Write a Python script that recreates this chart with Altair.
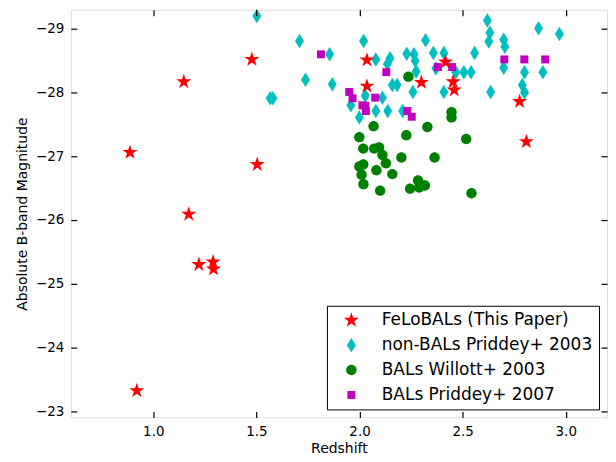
import altair as alt
import pandas as pd

# ---- data ----
felo_z = [0.887, 1.148, 1.478, 1.504, 1.172, 1.221, 1.290, 1.292, 0.920,
          2.036, 2.036, 2.300, 2.417, 2.454, 2.459, 2.776, 2.809]
felo_m = [-27.06, -28.17, -28.52, -26.87, -26.09, -25.30, -25.34, -25.23, -23.32,
          -28.51, -28.10, -28.16, -28.48, -28.17, -28.04, -27.86, -27.23]

nonbal_z = [1.502, 1.709, 1.855, 1.738, 1.868, 1.567, 1.580, 2.020, 2.079, 2.148,
            2.135, 2.229, 2.264, 2.270, 2.274, 2.320, 2.159, 2.182, 2.259, 2.111,
            2.028, 1.958, 1.999, 2.079, 2.137, 2.209, 2.358, 2.409, 2.558, 2.620,
            2.632, 2.627, 2.699, 2.705, 2.699, 2.370, 2.467, 2.506, 2.541, 2.409,
            2.636, 2.868, 2.969, 2.800, 2.889, 2.789, 2.800]
nonbal_m = [-29.20, -28.81, -28.60, -28.20, -28.13, -27.91, -27.91, -28.81, -28.52, -28.54,
            -28.45, -28.61, -28.60, -28.50, -28.33, -28.82, -28.12, -28.12, -28.01, -27.92,
            -27.95, -27.80, -27.61, -27.71, -27.71, -27.71, -28.62, -28.62, -28.62, -29.13,
            -28.94, -28.80, -28.83, -28.72, -28.39, -28.38, -28.32, -28.32, -28.32, -28.01,
            -28.01, -29.01, -28.92, -28.32, -28.32, -28.12, -28.00]

willott_z = [2.237, 2.446, 2.446, 2.068, 1.999, 2.227, 2.329, 2.517, 2.018, 2.071,
             2.095, 2.111, 2.128, 2.203, 2.364, 1.999, 2.018, 2.010, 2.082, 2.159,
             2.019, 2.100, 2.245, 2.284, 2.289, 2.317, 2.543]
willott_m = [-28.25, -27.69, -27.61, -27.47, -27.30, -27.33, -27.46, -27.27, -27.12, -27.12,
             -27.14, -27.02, -26.89, -26.98, -26.98, -26.84, -26.87, -26.71, -26.78, -26.72,
             -26.56, -26.46, -26.49, -26.62, -26.51, -26.54, -26.42]

priddey07_z = [1.813, 2.130, 1.950, 1.966, 2.014, 2.031, 2.028, 2.076, 2.232, 2.253,
               2.380, 2.449, 2.702, 2.799, 2.900]
priddey07_m = [-28.60, -28.32, -28.01, -27.91, -27.80, -27.71, -27.79, -27.92, -27.71, -27.62,
               -28.40, -28.40, -28.52, -28.52, -28.52]

series_names = ["FeLoBALs (This Paper)", "non-BALs Priddey+ 2003",
                "BALs Willott+ 2003", "BALs Priddey+ 2007"]
colors = ["#ff0000", "#00bfbf", "#008000", "#bf00bf"]
x_ticks = [1.0, 1.5, 2.0, 2.5, 3.0]
y_ticks = [-29, -28, -27, -26, -25, -24, -23]

STAR = ("M0,-1.1L0.247,-0.34L1.046,-0.34L0.4,0.13L0.647,0.89L0,0.42"
        "L-0.647,0.89L-0.4,0.13L-1.046,-0.34L-0.247,-0.34Z")
DIAMOND = "M0,-1L0.62,0L0,1L-0.62,0Z"
CIRCLE = "M0.72,0A0.72,0.72,0,1,1,-0.72,0A0.72,0.72,0,1,1,0.72,0Z"
SQUARE = "M-0.55,-0.55L0.55,-0.55L0.55,0.55L-0.55,0.55Z"
shapes = [STAR, DIAMOND, CIRCLE, SQUARE]
draw_rank = [3, 0, 1, 2]

rows = []
for name, zs, ms, rank in zip(series_names,
                              [felo_z, nonbal_z, willott_z, priddey07_z],
                              [felo_m, nonbal_m, willott_m, priddey07_m],
                              draw_rank):
    for z, m in zip(zs, ms):
        rows.append({"z": z, "M": m, "series": name, "rank": rank})
df = pd.DataFrame(rows)

FONT = "DejaVu Sans"
xscale = alt.Scale(domain=[0.6, 3.2], nice=False, zero=False)
yscale = alt.Scale(domain=[-29.3, -22.9], nice=False, zero=False, reverse=True)

common_axis = dict(tickSize=6, offset=-6, domain=False, grid=False, tickColor="black",
                   tickWidth=1.2, labelColor="black", titleColor="black",
                   labelFont=FONT, titleFont=FONT, labelFontSize=13.5,
                   titleFontSize=14, titleFontWeight="normal", zindex=2)

xaxis = alt.Axis(title="Redshift", values=x_ticks, format=".1f", labelPadding=7,
                 titlePadding=4, **common_axis)
yaxis = alt.Axis(title="Absolute B-band Magnitude", values=y_ticks, format="d",
                 labelPadding=7, titlePadding=6, **common_axis)
xaxis_top = alt.Axis(orient="top", title=None, labels=False, values=x_ticks, **common_axis)
yaxis_right = alt.Axis(orient="right", title=None, labels=False, values=y_ticks, **common_axis)

legend = alt.Legend(title=None, orient="bottom-right", offset=8, padding=6,
                    strokeColor="black", fillColor="white", labelFontSize=17,
                    labelFont=FONT, labelColor="black", rowPadding=7, labelLimit=500,
                    symbolOffset=10, labelOffset=22, symbolOpacity=1,
                    symbolStrokeWidth=0, symbolSize=210, cornerRadius=0)

points = alt.Chart(df).mark_point(filled=True, opacity=1, size=210).encode(
    x=alt.X("z:Q", scale=xscale, axis=xaxis),
    y=alt.Y("M:Q", scale=yscale, axis=yaxis),
    color=alt.Color("series:N", scale=alt.Scale(domain=series_names, range=colors),
                    legend=legend),
    shape=alt.Shape("series:N", scale=alt.Scale(domain=series_names, range=shapes),
                    legend=legend),
    order=alt.Order("rank:Q"),
)

frame_ticks = alt.Chart(df).mark_point(opacity=0, size=1).encode(
    x=alt.X("z:Q", scale=xscale, axis=xaxis_top),
    y=alt.Y("M:Q", scale=yscale, axis=yaxis_right),
)

chart = alt.layer(points, frame_ticks).resolve_axis(
    x="independent", y="independent"
).properties(
    width=538, height=409,
    autosize=alt.AutoSizeParams(type="none"),
    padding={"left": 63, "top": 1, "right": 1, "bottom": 44},
).configure_view(stroke="black", strokeWidth=1.5).configure(font=FONT)

chart.save("out.html", embed_options={"renderer": "svg", "actions": False})
